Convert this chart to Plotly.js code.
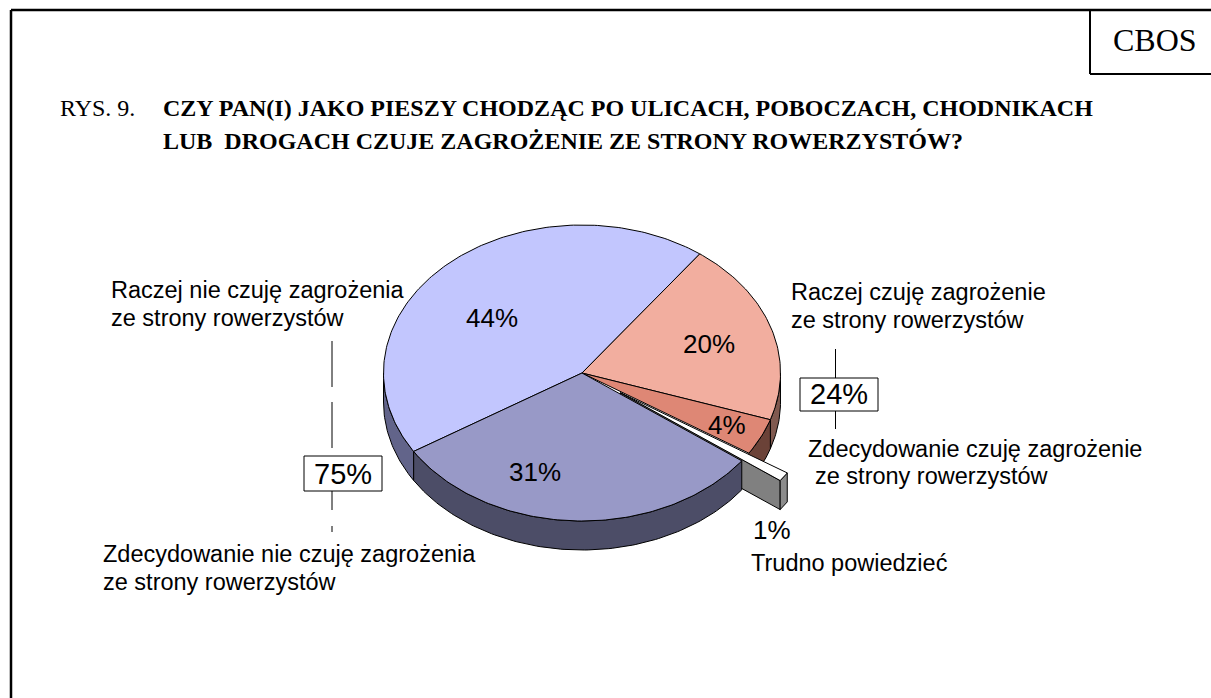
<!DOCTYPE html>
<html><head><meta charset="utf-8">
<script src="https://cdn.plot.ly/plotly-3.0.1.min.js"></script>
<style>html,body{margin:0;padding:0;background:#fff}#c{width:1211px;height:698px}</style>
</head><body><div id="c"></div>
<script>
const categories=['Raczej czuję zagrożenie','Zdecydowanie czuję zagrożenie','Trudno powiedzieć','Zdecydowanie nie czuję zagrożenia','Raczej nie czuję zagrożenia'];
const shares=[20,4,1,31,44];
const topColors=['#f2ae9f','#de8775','#ffffff','#9899c7','#c2c6fe'];
const wallColors=['#80594f','#6b4238','#8c8c8c','#4c4d67','#62648a'];
const PULLED=2, FRONT=3;
const startDeg=36.4, cx=582, cy=373, rx=198.5, ry=148, depth=29, pull=0.235;

const rad=d=>d*Math.PI/180;
const pt=(deg,ox,oy,dz)=>[cx+ox+rx*Math.sin(rad(deg)),cy+oy-ry*Math.cos(rad(deg))+dz];
function arc(a,b,ox,oy,dz){const n=Math.max(2,Math.ceil(Math.abs(b-a)));const o=[];for(let i=0;i<=n;i++)o.push(pt(a+(b-a)*i/n,ox,oy,dz));return o;}
function poly(points,fill,width){const p=points.concat([points[0]]);return{type:'scatter',mode:'lines',x:p.map(q=>q[0]),y:p.map(q=>q[1]),fill:'toself',fillcolor:fill,line:{color:'#000',width:width||1},hoverinfo:'skip',showlegend:false};}

const spans=[];let acc=startDeg;shares.forEach(s=>{spans.push([acc,acc+s*3.6]);acc+=s*3.6;});
function wallFace(i,ox,oy){const a=Math.max(spans[i][0],90),b=Math.min(spans[i][1],270);
  if(b<=a) return null;
  return poly(arc(a,b,ox,oy,0).concat(arc(b,a,ox,oy,depth)),wallColors[i]);}
function topFace(i,ox,oy){return poly([[cx+ox,cy+oy]].concat(arc(spans[i][0],spans[i][1],ox,oy,0)),topColors[i]);}

const traces=[];
[4,0,1].forEach(i=>traces.push(wallFace(i,0,0)));
[4,0,1].forEach(i=>traces.push(topFace(i,0,0)));
const mid=(spans[PULLED][0]+spans[PULLED][1])/2;
const ox=rx*Math.sin(rad(mid))*pull, oy=-ry*Math.cos(rad(mid))*pull;
const e=spans[PULLED][1], eo=pt(e,ox,oy,0), eb=pt(e,ox,oy,depth);
traces.push(poly([[cx+ox,cy+oy],eo,eb,[cx+ox,cy+oy+depth]],'#808080'));
traces.push(wallFace(PULLED,ox,oy));
traces.push(topFace(PULLED,ox,oy));
traces.push(wallFace(FRONT,0,0));
traces.push(topFace(FRONT,0,0));

const sans='"Liberation Sans", Arial, sans-serif', serif='"Liberation Serif", "Times New Roman", serif';
function T(x,y,text,size,fam,anchor){return{x,y,text,xref:'x',yref:'y',xanchor:anchor||'left',yanchor:'middle',showarrow:false,align:'left',borderpad:0,borderwidth:0,font:{family:fam||sans,size,color:'#000'}};}
const labelSize=23.5;
const annotations=[
 T(1155,40,'CBOS',32,serif,'center'),
 T(60,108,'RYS. 9.',24,serif),
 T(163,108,'<b>CZY PAN(I) JAKO PIESZY CHODZĄC PO ULICACH, POBOCZACH, CHODNIKACH</b>',24,serif),
 T(163,141,'<b>LUB  DROGACH CZUJE ZAGROŻENIE ZE STRONY ROWERZYSTÓW?</b>',24,serif),
 T(111,290,categories[4],labelSize),T(111,318,'ze strony rowerzystów',labelSize),
 T(791,292,categories[0],labelSize),T(791,320,'ze strony rowerzystów',labelSize),
 T(808,449,categories[1],labelSize),T(815,476,'ze strony rowerzystów',labelSize),
 T(103,554,categories[3],labelSize),T(103,582,'ze strony rowerzystów',labelSize),
 T(751,563,categories[2],labelSize),
 T(492,318,shares[4]+'%',26,sans,'center'),
 T(709,344,shares[0]+'%',26,sans,'center'),
 T(727,425,shares[1]+'%',26,sans,'center'),
 T(535,472,shares[3]+'%',26,sans,'center'),
 T(772,530,shares[2]+'%',26,sans,'center'),
 T(343,474,'75%',29,sans,'center'),
 T(838.5,394,'24%',29,sans,'center')
];
function L(x0,y0,x1,y1,w){return{type:'line',x0,y0,x1,y1,xref:'x',yref:'y',line:{color:'#000',width:w||1}};}
function R(x0,y0,x1,y1,w,fill){return{type:'rect',x0,y0,x1,y1,xref:'x',yref:'y',line:{color:'#000',width:w||1},fillcolor:fill||'rgba(0,0,0,0)'};}
const shapes=[
 L(11,10,1211,10,2.5),L(11,10,11,698,2.5),L(1090,10,1090,74,2),L(1090,74,1211,74,2),
 L(332,341,332,387),L(332,402,332,448),R(304,456,382,491,1,'#fff'),L(332,491,332,510),L(332,526,332,532),
 L(835.5,349,835.5,378),R(800,378,878,411,1,'#fff'),L(835.5,411,835.5,429)
];
Plotly.newPlot('c',traces,{
 width:1211,height:698,margin:{l:0,r:0,t:0,b:0},paper_bgcolor:'#fff',plot_bgcolor:'#fff',showlegend:false,
 xaxis:{range:[0,1211],visible:false,fixedrange:true},
 yaxis:{range:[698,0],visible:false,fixedrange:true},
 annotations,shapes
},{displayModeBar:false,staticPlot:true});
</script></body></html>
